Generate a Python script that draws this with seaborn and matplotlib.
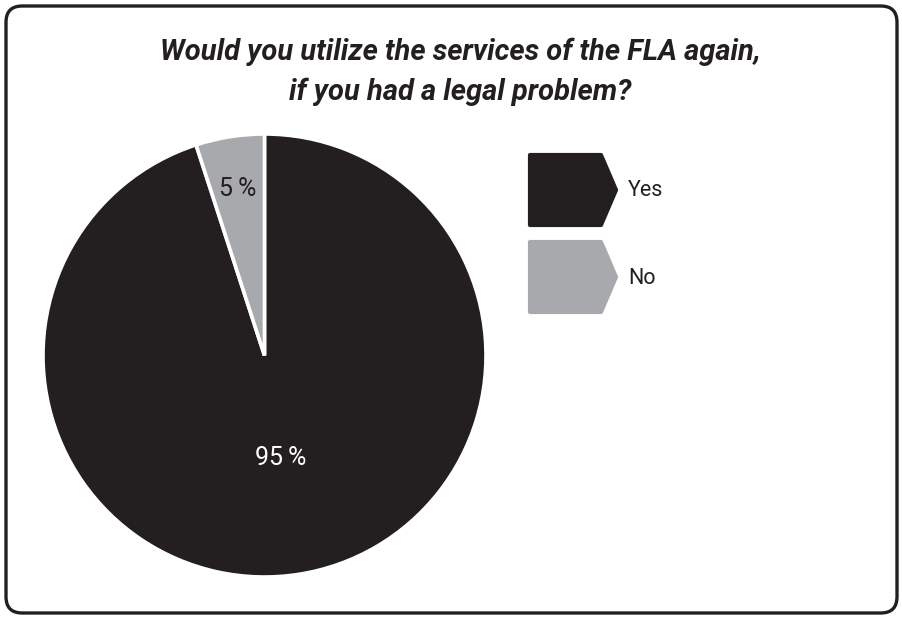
import matplotlib
matplotlib.use("Agg")
import matplotlib.pyplot as plt
import seaborn as sns
import numpy as np
from matplotlib.patches import FancyBboxPatch, Polygon
from matplotlib import font_manager

# Survey answers
categories = ["Yes", "No"]
shares = [95, 5]
label_texts = ["95\u2009%", "5\u2009%"]
colors = ["#231f20", "#a7a9ac"]
title = "Would you utilize the services of the FLA again,\nif you had a legal problem?"

sns.set_theme(style="white")
names = {f.name for f in font_manager.fontManager.ttflist}
family = [f for f in ["Liberation Sans Narrow", "DejaVu Sans Condensed", "Roboto", "DejaVu Sans"] if f in names]
plt.rcParams["font.family"] = family

W, H = 903, 619
fig = plt.figure(figsize=(W / 100, H / 100), dpi=100)
fig.patch.set_facecolor("white")

# rounded outer frame
frame = FancyBboxPatch((6 / W, 6 / H), (W - 12) / W, (H - 12) / H,
                       boxstyle="round,pad=0,rounding_size=0.018",
                       transform=fig.transFigure, facecolor="none",
                       edgecolor="#231f20", linewidth=2.4, mutation_aspect=W / H)
fig.patches.append(frame)

fig.text(460 / W, 1 - 72 / H, title, ha="center", va="center", fontsize=21,
         fontstyle="italic", fontweight="bold", color="#231f20", linespacing=1.5)

# pie
cx, cy, r = 264.5, 355.5, 221.5
ax = fig.add_axes([(cx - r) / W, (H - cy - r) / H, 2 * r / W, 2 * r / H])
wedges, _ = ax.pie(shares, colors=colors, startangle=90, counterclock=False,
                   radius=1, wedgeprops=dict(edgecolor="white", linewidth=2.6))
ax.set_xlim(-1, 1)
ax.set_ylim(-1, 1)
ax.set_aspect("equal")
ax.axis("off")

label_radius = [0.47, 0.76]
label_colors = ["white", "#231f20"]
for w, txt, rr, lc in zip(wedges, label_texts, label_radius, label_colors):
    ang = np.deg2rad((w.theta1 + w.theta2) / 2)
    ax.text(rr * np.cos(ang), rr * np.sin(ang), txt, ha="center", va="center",
            fontsize=18, color=lc)

# legend with arrow-shaped keys
lx0, lx1, ltip = 530, 601, 616
for i, (cat, col) in enumerate(zip(categories, colors)):
    top = 155 + i * 87
    bot = top + 70
    mid = (top + bot) / 2
    pts = [(lx0, top), (lx1, top), (ltip, mid), (lx1, bot), (lx0, bot)]
    pts = [(x / W, 1 - y / H) for x, y in pts]
    poly = Polygon(pts, closed=True, transform=fig.transFigure, facecolor=col,
                   edgecolor=col, linewidth=3, joinstyle="round")
    fig.patches.append(poly)
    fig.text(628 / W, 1 - (mid + 1) / H, cat, ha="left", va="center",
             fontsize=15.5, color="#231f20")

fig.savefig("out.png", dpi=100, facecolor="white")
